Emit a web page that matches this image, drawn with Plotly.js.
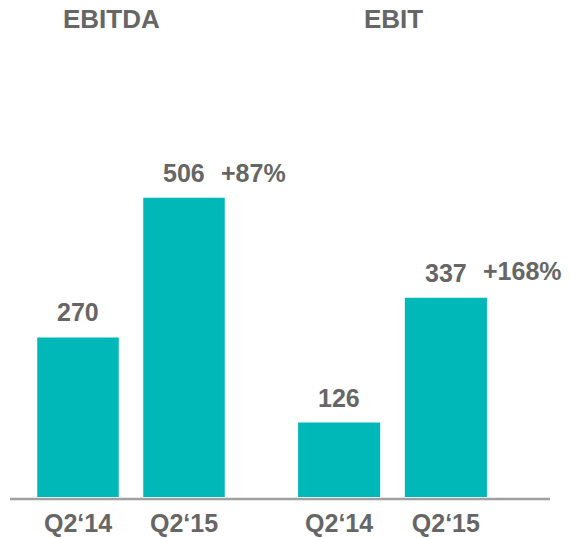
<!DOCTYPE html>
<html>
<head>
<meta charset="utf-8">
<script src="https://cdn.plot.ly/plotly-3.0.1.min.js"></script>
<style>html,body{margin:0;padding:0;background:#fff;}#chart{width:571px;height:538px;}</style>
</head>
<body>
<div id="chart"></div>
<script>
var categories = ['Q2\u201814', 'Q2\u201815'];
var groupTitles = ['EBITDA', 'EBIT'];
var ebitdaValues = [270, 506];
var ebitValues = [126, 337];
var growthLabels = ['+87%', '+168%'];

var teal = '#00b8b8';
var grey = '#666666';
var fontFam = '"Liberation Sans", Arial, sans-serif';

var data = [
  {type: 'bar', x: categories, y: ebitdaValues, xaxis: 'x', yaxis: 'y',
   marker: {color: teal}, hoverinfo: 'none'},
  {type: 'bar', x: categories, y: ebitValues, xaxis: 'x2', yaxis: 'y',
   marker: {color: teal}, hoverinfo: 'none'}
];

var annotations = [];
var series = [ebitdaValues, ebitValues];
var xrefs = ['x', 'x2'];
for (var s = 0; s < 2; s++) {
  for (var i = 0; i < categories.length; i++) {
    annotations.push({
      xref: xrefs[s], yref: 'y', x: categories[i], y: series[s][i],
      text: '<b>' + series[s][i] + '</b>', showarrow: false,
      xanchor: 'center', yanchor: 'bottom', yshift: 9,
      font: {family: fontFam, size: 25, color: grey}
    });
  }
  annotations.push({
    xref: xrefs[s], yref: 'y', x: categories[1], y: series[s][1],
    text: '<b>' + growthLabels[s] + '</b>', showarrow: false,
    xanchor: 'left', yanchor: 'bottom', yshift: s === 1 ? 11 : 9, xshift: 35,
    font: {family: fontFam, size: 25, color: grey}
  });
}
annotations.push({xref: 'paper', yref: 'paper', x: 111 / 571, y: 1.046, text: '<b>' + groupTitles[0] + '</b>',
  showarrow: false, xanchor: 'center', yanchor: 'middle', font: {family: fontFam, size: 26, color: grey}});
annotations.push({xref: 'paper', yref: 'paper', x: 393 / 571, y: 1.046, text: '<b>' + groupTitles[1] + '</b>',
  showarrow: false, xanchor: 'center', yanchor: 'middle', font: {family: fontFam, size: 26, color: grey}});

var xCommon = {
  type: 'category', range: [-0.5, 1.5], showgrid: false, zeroline: false, showline: false,
  ticks: '', tickfont: {family: fontFam, size: 25, color: grey}, ticklabelstandoff: 9, fixedrange: true
};

var layout = {
  width: 571, height: 538,
  margin: {l: 0, r: 0, t: 40, b: 41},
  paper_bgcolor: '#ffffff', plot_bgcolor: '#ffffff',
  showlegend: false, bargap: 0.231,
  xaxis: Object.assign({}, xCommon, {domain: [25 / 571, 237 / 571], anchor: 'y'}),
  xaxis2: Object.assign({}, xCommon, {domain: [285.75 / 571, 499.25 / 571], anchor: 'y'}),
  yaxis: {range: [0, 773], visible: false, showgrid: false, zeroline: false, fixedrange: true},
  shapes: [{type: 'line', xref: 'paper', yref: 'paper', x0: 10 / 571, x1: 550 / 571,
    y0: -2 / 457, y1: -2 / 457, line: {color: '#a0a0a0', width: 2.5}}],
  annotations: annotations
};
// bold tick labels
layout.xaxis.tickvals = categories;
layout.xaxis.ticktext = categories.map(function (c) { return '<b>' + c + '</b>'; });
layout.xaxis2.tickvals = categories;
layout.xaxis2.ticktext = categories.map(function (c) { return '<b>' + c + '</b>'; });

Plotly.newPlot('chart', data, layout, {displayModeBar: false, staticPlot: true});
</script>
</body>
</html>
